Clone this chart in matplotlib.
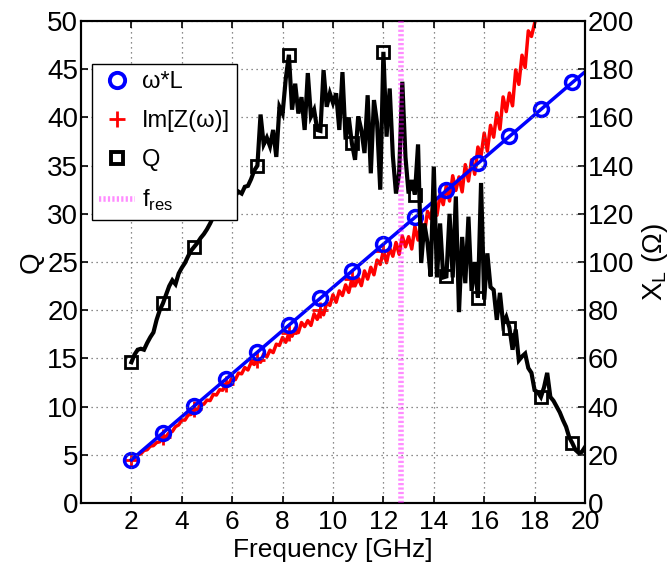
import matplotlib
matplotlib.use('Agg')
import matplotlib.pyplot as plt
from matplotlib.lines import Line2D
import numpy as np

plt.rcParams['font.family'] = ['Liberation Sans', 'DejaVu Sans']
plt.rcParams['mathtext.fontset'] = 'custom'
plt.rcParams['mathtext.rm'] = 'Liberation Sans'

# Q(f), sampled every 0.125 GHz from 2 to 20 GHz
Q_F_START, Q_F_STEP = 2.0, 0.125
q_values = [
    14.6, 15.4, 15.9, 16.0, 15.9, 16.6, 17.2, 17.7, 19.0, 20.0,
    20.7, 21.6, 22.5, 23.1, 22.7, 23.8, 24.4, 24.9, 25.6, 26.2,
    26.6, 27.0, 27.5, 27.9, 28.4, 29.0, 29.7, 30.1, 30.6, 30.9,
    31.0, 31.3, 31.5, 31.9, 32.3, 32.1, 32.8, 32.9, 33.6, 34.5,
    35.0, 40.3, 37.2, 37.9, 37.0, 38.7, 35.9, 41.1, 40.4, 44.0,
    46.5, 40.8, 43.5, 40.4, 42.1, 38.7, 44.6, 40.1, 40.8, 38.7,
    38.6, 44.9, 41.1, 42.5, 41.5, 42.5, 38.7, 44.7, 37.7, 40.0,
    37.3, 35.6, 40.1, 38.7, 36.3, 42.3, 34.2, 41.8, 39.4, 32.5,
    46.8, 38.0, 43.0, 36.0, 32.1, 34.2, 43.7, 35.9, 32.1, 33.5,
    32.0, 37.2, 24.9, 29.0, 27.0, 23.5, 34.9, 23.4, 29.0, 23.4,
    23.5, 30.0, 23.4, 31.8, 19.8, 27.6, 22.8, 29.7, 22.0, 25.0,
    21.3, 33.2, 21.1, 25.9, 22.4, 22.1, 19.0, 21.8, 18.6, 19.3,
    18.2, 15.9, 18.0, 14.8, 15.2, 15.5, 14.0, 13.5, 11.7, 11.5,
    11.0, 12.0, 13.5, 11.0, 10.6, 10.0, 9.4, 8.6, 7.9, 6.8,
    6.2, 5.5, 5.2, 5.3, 5.8,
]

# measured Im[Z(w)] in ohm, same 0.125 GHz sampling from 2 GHz
im_z = [
    17.9, 18.6, 20.0, 20.4, 21.8, 22.1, 23.6, 23.8,
    25.1, 25.4, 27.3, 27.6, 29.2, 29.7, 31.7, 32.4,
    34.4, 34.4, 36.5, 36.8, 38.9, 38.8, 41.1, 41.0,
    42.7, 42.5, 45.1, 44.8, 47.0, 46.8, 49.4, 49.6,
    52.1, 51.2, 53.9, 53.6, 56.2, 55.2, 58.3, 57.5,
    59.5, 58.4, 61.9, 60.6, 63.4, 62.4, 65.9, 65.4,
    68.7, 66.7, 70.4, 69.2, 72.6, 70.7, 74.9, 73.2,
    75.7, 73.7, 78.5, 76.2, 80.2, 78.1, 83.1, 82.0,
    86.4, 83.3, 88.0, 86.1, 90.5, 87.4, 93.0, 90.1,
    93.3, 90.2, 96.3, 92.9, 97.8, 94.7, 100.8, 99.0,
    104.7, 99.7, 105.8, 102.4, 108.1, 103.2, 110.8, 106.3,
    110.5, 105.4, 114.8, 109.1, 116.5, 111.5, 121.0, 118.0,
    126.0, 119.4, 128.2, 123.8, 132.0, 125.3, 135.8, 129.7,
    135.3, 129.1, 140.4, 133.6, 142.4, 136.4, 147.7, 144.1,
    153.5, 146.0, 156.7, 151.8, 161.9, 155.1, 168.5, 162.4,
    170.1, 164.8, 179.7, 173.7, 185.8, 180.7, 195.9, 193.6,
    199.0, 204.0,
]

# omega*L reactance at marker frequencies (plus end point)
wl_freq = [2.0, 3.25, 4.5, 5.75, 7.0, 8.25, 9.5, 10.75, 12.0,
           13.25, 14.5, 15.75, 17.0, 18.25, 19.5, 20.0]
wl_vals = [17.9, 29.1, 40.3, 51.4, 62.6, 73.8, 85.0, 96.2, 107.4,
           118.5, 129.7, 140.9, 152.1, 163.3, 174.5, 178.9]

f_res = 12.7

q_freq = Q_F_START + Q_F_STEP * np.arange(len(q_values))
z_freq = Q_F_START + Q_F_STEP * np.arange(len(im_z))

fig = plt.figure(figsize=(6.71, 5.64), dpi=100)
ax1 = fig.add_axes([81 / 671, 1 - 503 / 564, 504 / 671, 482 / 564])
ax2 = ax1.twinx()

# reactance curves on the right axis
ax2.plot(z_freq, im_z, color='red', lw=2.5, marker='+', ms=11, mew=2,
         markevery=[0, 10, 20, 30, 40, 50, 60, 70, 80])
ax2.plot(wl_freq, wl_vals, color='blue', lw=2.5, marker='o', ms=10,
         mew=2.5, mfc='none', markevery=list(range(15)))

# Q on the left axis, drawn on top
ax1.set_zorder(ax2.get_zorder() + 1)
ax1.patch.set_visible(False)
ax1.plot(q_freq, q_values, color='black', lw=3, marker='s', ms=9, mew=2,
         mfc='none', markevery=10, solid_joinstyle='miter')
ax1.axvline(f_res, color='magenta', alpha=0.45, lw=4,
            linestyle=(0, (0.4, 0.4)), zorder=5)

ax1.set_xlim(0, 20)
ax1.set_ylim(0, 50)
ax2.set_ylim(0, 200)
ax1.set_xticks(np.arange(2, 21, 2))
ax1.set_yticks(np.arange(0, 51, 5))
ax2.set_yticks(np.arange(0, 201, 20))

ax1.grid(True, color='0.4', linestyle=(0, (1, 3)), lw=0.9)
for ax in (ax1, ax2):
    ax.tick_params(direction='in', length=5, width=1.2, labelsize=20)
    for s in ax.spines.values():
        s.set_linewidth(1.5)
ax1.tick_params(axis='x', top=True, pad=5, labelsize=19)
ax1.tick_params(axis='y', pad=2)
ax2.tick_params(axis='y', pad=2)

ax1.set_xlabel('Frequency [GHz]', fontsize=19, va='center')
ax1.xaxis.set_label_coords(0.5, -0.0975)
ax1.set_ylabel('Q', fontsize=20, labelpad=2)
ax2.set_ylabel(r'X$_\mathregular{L}$ (Ω)', fontsize=20, labelpad=4)

handles = [
    Line2D([], [], color='blue', marker='o', ms=11, mew=2.8, mfc='none',
           ls='none'),
    Line2D([], [], color='red', marker='+', ms=12, mew=2, ls='none'),
    Line2D([], [], color='black', marker='s', ms=9, mew=2.8, mfc='none',
           ls='none'),
    Line2D([], [], color='magenta', alpha=0.45, lw=4,
           ls=(0, (0.4, 0.4))),
]
labels = ['ω*L', 'Im[Z(ω)]', 'Q', r'f$_\mathregular{res}$']
leg = ax1.legend(handles, labels, loc='upper left',
                 bbox_to_anchor=(92 / 671, 1 - 64 / 564),
                 bbox_transform=fig.transFigure, fontsize=17,
                 fancybox=False, framealpha=1, edgecolor='black',
                 handlelength=1.5, handletextpad=0.3, labelspacing=0.72,
                 borderpad=0.3, borderaxespad=0)
leg.get_frame().set_linewidth(1.0)

fig.savefig('out.png', dpi=100)
